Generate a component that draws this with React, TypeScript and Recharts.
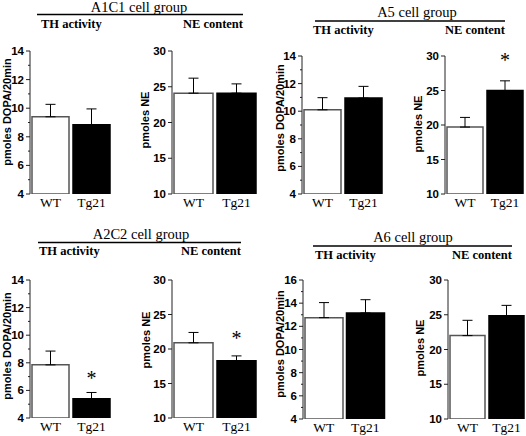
import React from "react";
import { BarChart, Bar, XAxis, YAxis, ErrorBar, Cell, ReferenceDot } from "recharts";

// groups on the x axis
const groups = ["WT", "Tg21"];

// A1C1 cell group
const a1c1TH = [9.4, 8.85];
const a1c1THErr = [0.87, 1.1];
const a1c1NE = [24.1, 24.1];
const a1c1NEErr = [2.1, 1.3];

// A5 cell group
const a5TH = [10.1, 10.95];
const a5THErr = [0.88, 0.85];
const a5NE = [19.7, 25.0];
const a5NEErr = [1.4, 1.4];
const a5NEStar = [null, 29.5];

// A2C2 cell group
const a2c2TH = [7.85, 5.4];
const a2c2THErr = [1.0, 0.45];
const a2c2THStar = [null, 7.0];
const a2c2NE = [20.9, 18.3];
const a2c2NEErr = [1.5, 0.7];
const a2c2NEStar = [null, 21.8];

// A6 cell group
const a6TH = [12.75, 13.15];
const a6THErr = [1.3, 1.15];
const a6NE = [22.0, 24.85];
const a6NEErr = [2.2, 1.5];

const thTicks = [4, 5, 6, 7, 8, 9, 10, 11, 12, 13, 14];
const thMajors = [4, 6, 8, 10, 12, 14];
const a6ThTicks = [4, 5, 6, 7, 8, 9, 10, 11, 12, 13, 14, 15, 16];
const a6ThMajors = [4, 6, 8, 10, 12, 14, 16];
const neTicks = [10, 15, 20, 25, 30];

const fills = ["#ffffff", "#000000"];
const strokes = ["#555555", "#000000"];

const SANS = "'Liberation Sans', Arial, sans-serif";
const SERIF = "'Liberation Serif', 'Times New Roman', serif";

type PanelProps = {
  values: number[];
  errs: number[];
  stars?: (number | null)[];
  axisX: number;
  plotTop: number;
  plotBottom: number;
  plotW: number;
  domain: [number, number];
  ticks: number[];
  majors: number[];
  yLabel: string;
  labelCX: number;
  labelCY: number;
};

const Panel = (p: PanelProps) => {
  const left = p.axisX - 40;
  const top = p.plotTop - 10;
  const width = 40 + p.plotW + 4;
  const height = 10 + (p.plotBottom - p.plotTop) + 22;
  const data = groups.map((name, i) => ({
    name,
    value: p.values[i],
    err: [0, p.errs[i]],
  }));

  const YTick = (t: any) => {
    const v = t.payload.value;
    const major = p.majors.includes(v);
    return (
      <g>
        <line x1={t.x - (major ? 4 : 2)} x2={t.x} y1={t.y} y2={t.y} stroke="#222" />
        {major && (
          <text
            x={t.x - 6}
            y={t.y}
            textAnchor="end"
            dominantBaseline="central"
            fontFamily={SANS}
            fontWeight="bold"
            fontSize={11.5}
            fill="#000"
          >
            {v}
          </text>
        )}
      </g>
    );
  };

  const yLabel = () => {
    const cx = p.labelCX - left;
    const cy = p.labelCY - top;
    return (
      <text
        x={cx}
        y={cy}
        transform={`rotate(-90, ${cx}, ${cy})`}
        textAnchor="middle"
        dominantBaseline="central"
        fontFamily={SANS}
        fontWeight="bold"
        fontSize={11}
        fill="#000"
      >
        {p.yLabel}
      </text>
    );
  };

  return (
    <div style={{ position: "absolute", left, top }}>
      <BarChart
        width={width}
        height={height}
        data={data}
        margin={{ top: 10, right: 4, bottom: 0, left: 0 }}
        barCategoryGap={2}
      >
        <XAxis
          dataKey="name"
          axisLine={false}
          tickLine={false}
          height={22}
          tickSize={0}
          tickMargin={3}
          tick={{ fontFamily: SERIF, fontSize: 13.5, fill: "#000" }}
        />
        <YAxis
          width={40}
          domain={p.domain}
          ticks={p.ticks}
          interval={0}
          allowDataOverflow
          tickLine={false}
          tickSize={0}
          tickMargin={0}
          axisLine={{ stroke: "#222" }}
          tick={YTick}
          label={yLabel}
        />
        <Bar dataKey="value" isAnimationActive={false} strokeWidth={1.5}>
          {data.map((d, i) => (
            <Cell key={d.name} fill={fills[i]} stroke={strokes[i]} />
          ))}
          <ErrorBar dataKey="err" direction="y" width={5} stroke="#000" strokeWidth={1} />
        </Bar>
        {(p.stars || []).map((s, i) =>
          s == null ? null : (
            <ReferenceDot
              key={i}
              x={groups[i]}
              y={s}
              r={0}
              shape={(sp: any) => (
                <text
                  x={sp.cx}
                  y={sp.cy + 8}
                  textAnchor="middle"
                  fontFamily={SERIF}
                  fontSize={20}
                  fill="#000"
                >
                  *
                </text>
              )}
            />
          )
        )}
      </BarChart>
    </div>
  );
};

type HeaderProps = { title: string; cx: number; base: number; x1: number; x2: number; lineY: number; subBase: number; subX: number };

const Header = (h: HeaderProps) => (
  <g>
    <text x={h.cx} y={h.base} textAnchor="middle" fontFamily={SERIF} fontSize={14.5} fill="#000">
      {h.title}
    </text>
    <line x1={h.x1} x2={h.x2} y1={h.lineY} y2={h.lineY} stroke="#000" strokeWidth={1.5} />
    <text x={h.subX} y={h.subBase} fontFamily={SERIF} fontWeight="bold" fontSize={12.5} fill="#000">
      TH activity
    </text>
    <text x={h.x2} y={h.subBase} textAnchor="end" fontFamily={SERIF} fontWeight="bold" fontSize={12.5} fill="#000">
      NE content
    </text>
  </g>
);

export default function App() {
  return (
    <div style={{ position: "absolute", left: 0, top: 0, width: 526, height: 436, background: "#fff" }}>
      <svg width={526} height={436} style={{ position: "absolute", left: 0, top: 0 }}>
        <Header title="A1C1 cell group" cx={139} base={12} x1={37} x2={243} lineY={14.5} subX={41} subBase={28} />
        <Header title="A5 cell group" cx={417} base={17} x1={315} x2={505} lineY={21} subX={313} subBase={34} />
        <Header title="A2C2 cell group" cx={141} base={239} x1={38} x2={241} lineY={242.5} subX={39} subBase={255} />
        <Header title="A6 cell group" cx={413} base={242} x1={313} x2={512} lineY={246} subX={315} subBase={259} />
      </svg>

      <Panel values={a1c1TH} errs={a1c1THErr} axisX={30} plotTop={51} plotBottom={194} plotW={82}
        domain={[4, 14]} ticks={thTicks} majors={thMajors} yLabel="pmoles DOPA/20min" labelCX={7} labelCY={112} />
      <Panel values={a1c1NE} errs={a1c1NEErr} axisX={172} plotTop={51} plotBottom={194} plotW={86}
        domain={[10, 30]} ticks={neTicks} majors={neTicks} yLabel="pmoles NE" labelCX={145} labelCY={120} />
      <Panel values={a5TH} errs={a5THErr} axisX={302} plotTop={56} plotBottom={194} plotW={82}
        domain={[4, 14]} ticks={thTicks} majors={thMajors} yLabel="pmoles DOPA/20min" labelCX={280} labelCY={118} />
      <Panel values={a5NE} errs={a5NEErr} stars={a5NEStar} axisX={445} plotTop={56} plotBottom={194} plotW={80}
        domain={[10, 30]} ticks={neTicks} majors={neTicks} yLabel="pmoles NE" labelCX={418} labelCY={124} />

      <Panel values={a2c2TH} errs={a2c2THErr} stars={a2c2THStar} axisX={30} plotTop={280} plotBottom={418} plotW={82}
        domain={[4, 14]} ticks={thTicks} majors={thMajors} yLabel="pmoles DOPA/20min" labelCX={7} labelCY={346} />
      <Panel values={a2c2NE} errs={a2c2NEErr} stars={a2c2NEStar} axisX={172} plotTop={280} plotBottom={418} plotW={86}
        domain={[10, 30]} ticks={neTicks} majors={neTicks} yLabel="pmoles NE" labelCX={146} labelCY={340} />
      <Panel values={a6TH} errs={a6THErr} axisX={303} plotTop={280} plotBottom={419} plotW={83}
        domain={[4, 16]} ticks={a6ThTicks} majors={a6ThMajors} yLabel="pmoles DOPA/20min" labelCX={280} labelCY={344} />
      <Panel values={a6NE} errs={a6NEErr} axisX={448} plotTop={280} plotBottom={419} plotW={78}
        domain={[10, 30]} ticks={neTicks} majors={neTicks} yLabel="pmoles NE" labelCX={420} labelCY={348} />
    </div>
  );
}
